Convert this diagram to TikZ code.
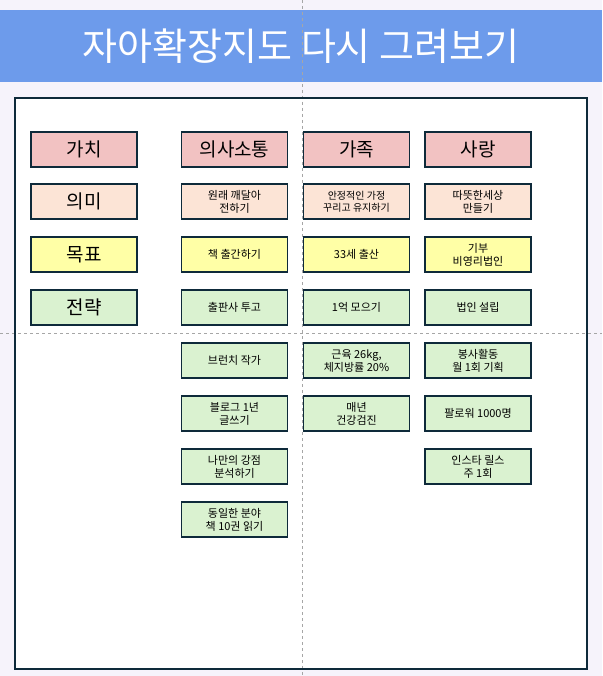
\documentclass[tikz,border=0pt]{standalone}
\usepackage{fontspec}
\setmainfont{Noto Sans CJK KR}
\usetikzlibrary{positioning}
\definecolor{bgpage}{HTML}{F6F3FB}
\definecolor{banner}{HTML}{6D9BEB}
\definecolor{edge}{HTML}{0E2A3A}
\definecolor{valcol}{HTML}{F2C2C2}
\definecolor{meancol}{HTML}{FCE4D6}
\definecolor{goalcol}{HTML}{FFFFA6}
\definecolor{stratcol}{HTML}{DAF2D0}
\tikzset{
  card/.style={draw=edge, line width=1.6pt, minimum width=106pt, minimum height=35pt,
    align=center, inner sep=1pt, font=\fontsize{11}{13}\selectfont},
  headcard/.style={card, font=\fontsize{19}{22}\selectfont},
  labcard/.style={card, minimum width=106pt, font=\fontsize{19}{22}\selectfont}
}
\begin{document}
\begin{tikzpicture}[x=1pt,y=-1pt]
  \useasboundingbox (0,0) rectangle (602,676);
  \fill[bgpage] (0,0) rectangle (602,676);
  \fill[banner] (0,10) rectangle (602,82);
  \node (title) [text=white, font=\fontsize{38}{42}\selectfont] at (301,46) {자아확장지도 다시 그려보기};
  \draw[white, fill=white] (15,98) rectangle (587,669);
  \draw[gray!70, dashed] (302,0) -- (302,676);
  \draw[gray!70, dashed] (0,333) -- (602,333);
  \draw[edge, line width=1.6pt] (15,98) rectangle (587,669);

  % row labels
  \node (l1) [labcard, fill=valcol] at (84,149.5) {가치};
  \node (l2) [labcard, fill=meancol] at (84,201.5) {의미};
  \node (l3) [labcard, fill=goalcol] at (84,254.5) {목표};
  \node (l4) [labcard, fill=stratcol] at (84,307.5) {전략};

  % column 1
  \node (a1) [headcard, fill=valcol] at (234.5,149.5) {의사소통};
  \node (a2) [card, fill=meancol] at (234.5,201.5) {원래 깨달아\\전하기};
  \node (a3) [card, fill=goalcol] at (234.5,254.5) {책 출간하기};
  \node (a4) [card, fill=stratcol] at (234.5,307.5) {출판사 투고};
  \node (a5) [card, fill=stratcol] at (234.5,360.5) {브런치 작가};
  \node (a6) [card, fill=stratcol] at (234.5,413.5) {블로그 1년\\글쓰기};
  \node (a7) [card, fill=stratcol] at (234.5,466.5) {나만의 강점\\분석하기};
  \node (a8) [card, fill=stratcol] at (234.5,519.5) {동일한 분야\\책 10권 읽기};

  % column 2
  \node (b1) [headcard, fill=valcol] at (356.5,149.5) {가족};
  \node (b2) [card, fill=meancol, font=\fontsize{10}{12}\selectfont] at (356.5,201.5) {안정적인 가정\\꾸리고 유지하기};
  \node (b3) [card, fill=goalcol] at (356.5,254.5) {33세 출산};
  \node (b4) [card, fill=stratcol] at (356.5,307.5) {1억 모으기};
  \node (b5) [card, fill=stratcol] at (356.5,360.5) {근육 26kg,\\체지방률 20\%};
  \node (b6) [card, fill=stratcol] at (356.5,413.5) {매년\\건강검진};

  % column 3
  \node (c1) [headcard, fill=valcol] at (478,149.5) {사랑};
  \node (c2) [card, fill=meancol] at (478,201.5) {따뜻한세상\\만들기};
  \node (c3) [card, fill=goalcol] at (478,254.5) {기부\\비영리법인};
  \node (c4) [card, fill=stratcol] at (478,307.5) {법인 설립};
  \node (c5) [card, fill=stratcol] at (478,360.5) {봉사활동\\월 1회 기획};
  \node (c6) [card, fill=stratcol] at (478,413.5) {팔로워 1000명};
  \node (c7) [card, fill=stratcol] at (478,466.5) {인스타 릴스\\주 1회};
\end{tikzpicture}
\end{document}
